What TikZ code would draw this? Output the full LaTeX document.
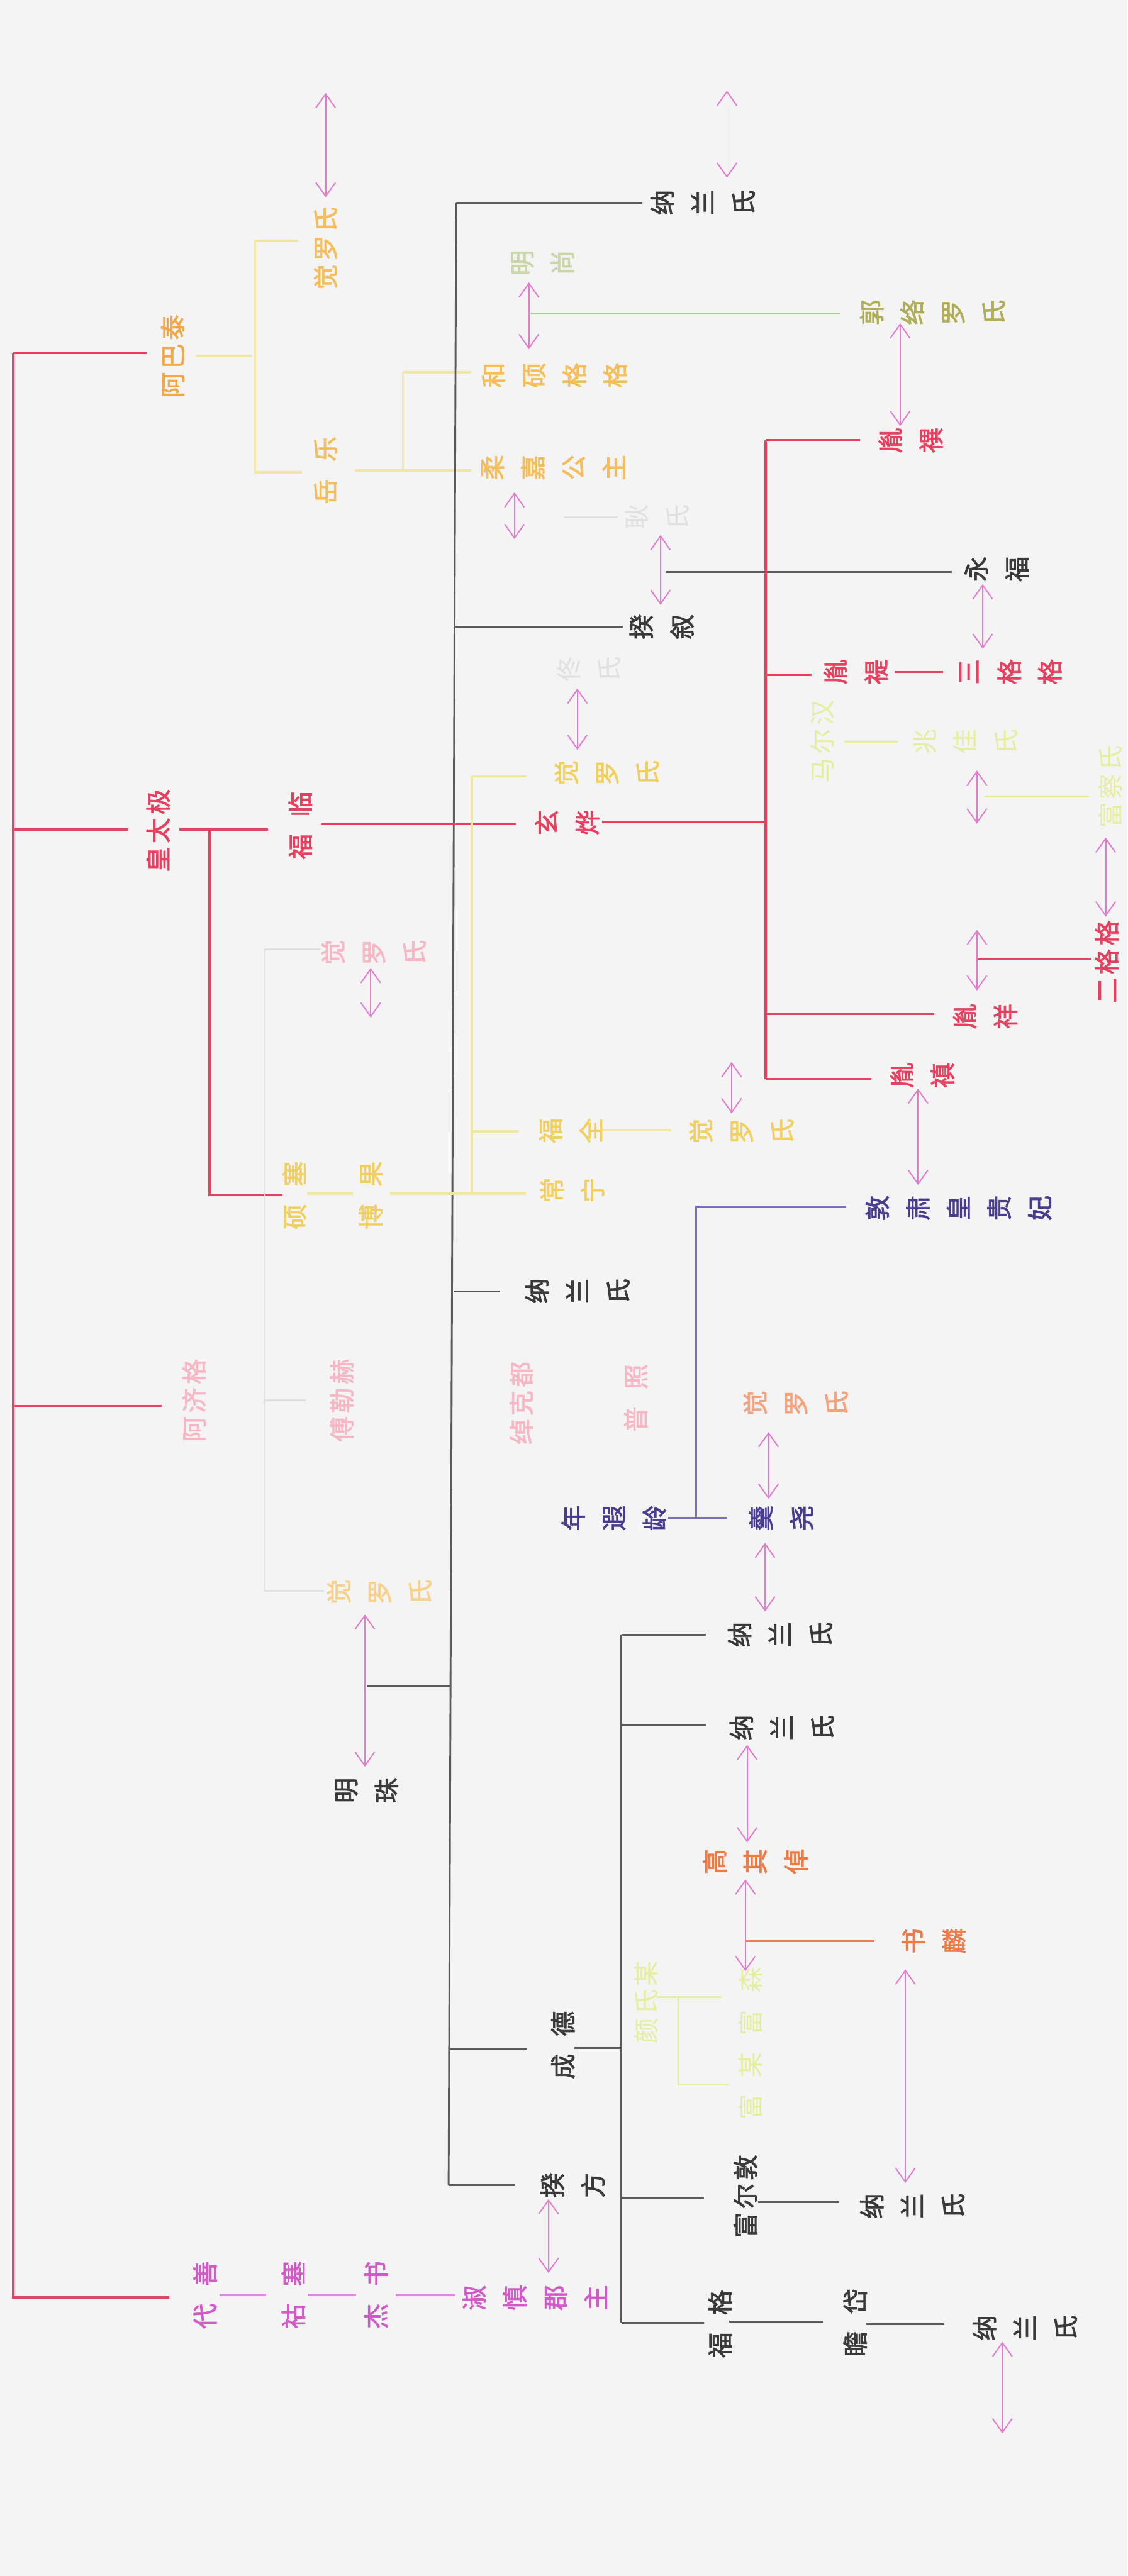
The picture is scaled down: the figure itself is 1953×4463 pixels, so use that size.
\documentclass[tikz,border=0pt]{standalone}
\usepackage{fontspec}
\setmainfont{Noto Sans CJK SC}[AutoFakeBold=2]
\usepackage{xcolor}
\usepackage{tikz}
\usetikzlibrary{arrows.meta}

\definecolor{bgc}{HTML}{F4F4F4}
\definecolor{hred}{HTML}{E8405E}
\definecolor{dtxt}{HTML}{3A3A3A}
\definecolor{dline}{HTML}{5A5A5A}
\definecolor{parr}{HTML}{E27AD0}
\definecolor{hor}{HTML}{F0A848}
\definecolor{lor}{HTML}{F5BE5A}
\definecolor{ylin}{HTML}{EFE7A2}
\definecolor{yel}{HTML}{F2D060}
\definecolor{olv}{HTML}{B0AE58}
\definecolor{grn}{HTML}{A8D888}
\definecolor{fgrn}{HTML}{C8D6A8}
\definecolor{pur}{HTML}{4A3D8F}
\definecolor{purl}{HTML}{7A6CB8}
\definecolor{mag}{HTML}{D25AC8}
\definecolor{ored}{HTML}{F07A45}
\definecolor{fpink}{HTML}{F5B8C4}
\definecolor{fgry}{HTML}{E0E0E0}
\definecolor{fyg}{HTML}{E4EE9E}

% gaps between the glyphs of a standing name
\newcommand{\cg}{\hspace{0.06cm}}
\newcommand{\wg}{\hspace{0.3cm}}

\begin{document}
\begin{tikzpicture}[x=0.01cm, y=-0.01cm,
    lab/.style={rotate=90, inner sep=1pt, font=\fontsize{12.5}{20}\selectfont\bfseries},
    row/.style={lab, align=center},
    col/.style={lab},
    faint/.style={font=\fontsize{12.5}{20}\selectfont},
    rl/.style={draw=hred, line width=1.1pt},
    dl/.style={draw=dline, line width=0.9pt},
    yl/.style={draw=ylin, line width=1.1pt},
    pl/.style={draw=purl, line width=1pt},
    ml/.style={draw=mag!70, line width=0.9pt},
    fl/.style={draw=fgry, line width=0.9pt},
    arr/.style={{Straight Barb[length=2.4mm,width=3.4mm]}-{Straight Barb[length=2.4mm,width=3.4mm]}, draw=parr, line width=0.6pt}
]
\fill[bgc] (0,0) rectangle (1953,4463);
\useasboundingbox (0,0) rectangle (1953,4463);

% --- Abatai and Yuele ---
\node[col, text=lor] (jlA) at (564,430) {觉\cg{}罗\cg{}氏};
\node[col, text=hor] (abt) at (299,617) {阿\cg{}巴\cg{}泰};
\node[col, text=lor] (yuele) at (564,815) {岳\wg{}乐};
\node[row, text=lor] (hsgg) at (960,650) {和\\硕\\格\\格};
\node[row, text=lor] (rjgz) at (958,810) {柔\\嘉\\公\\主};
\node[row, text=fgrn] (mshang) at (940,455) {明\\尚};
\node[row, text=olv] (glls) at (1615,541) {郭\\络\\罗\\氏};
\draw[yl] (517,417) -- (442,417) -- (442,818) -- (523,818);
\draw[yl] (340,617) -- (436,617);
\draw[yl] (614,815) -- (816,815);
\draw[yl] (698,645) -- (698,815);
\draw[yl] (698,645) -- (816,645);
\draw[draw=grn, line width=1pt] (919,543) -- (1456,543);
\draw[arr] (564,161) -- (564,342);
\draw[arr] (916,489) -- (916,605);
\draw[arr] (1559,560) -- (1559,738);
\draw[arr] (891,853) -- (891,934);

% --- Mingzhu's children ---
\node[row, text=dtxt] (nlA) at (1217,351) {纳\\兰\\氏};
\node[row, faint, text=fgry] (gshi) at (1138,896) {耿\\氏};
\node[row, text=dtxt] (kuixu) at (1146,1086) {揆\\叙};
\node[row, text=dtxt] (yongfu) at (1726,986) {永\\福};
\node[row, text=dtxt] (nlB) at (1000,2237) {纳\\兰\\氏};
\node[row, text=dtxt] (mzhu) at (635,3102) {明\\珠};
\node[col, text=dtxt] (chengde) at (975,3543) {成\wg{}德};
\node[row, text=dtxt] (kuifang) at (992,3786) {揆\\方};
\draw[dl] (790,351) -- (777,3786);
\draw[dl] (790,351) -- (1113,351);
\draw[fl] (976,896) -- (1070,896);
\draw[dl] (789,1086) -- (1079,1086);
\draw[dl] (1154,991) -- (1649,991);
\draw[dl] (786,2237) -- (866,2237);
\draw[dl] (636,2922) -- (780,2922);
\draw[dl] (780,3550) -- (913,3550);
\draw[dl] (777,3786) -- (891,3786);
\draw[arr] (1259,157) -- (1259,308);
\draw[arr] (1144,927) -- (1144,1048);
\draw[arr] (1702,1012) -- (1702,1124);
\draw[arr] (632,2797) -- (632,3061);
\draw[arr] (950,3810) -- (950,3938);

% --- Hong Taiji line ---
\node[col, text=hred] (htj) at (274,1439) {皇\cg{}太\cg{}极};
\node[col, text=hred] (fulin) at (520,1430) {福\wg{}临};
\node[row, text=hred] (xuanye) at (982,1425) {玄\\烨};
\node[row, text=hred] (yinsi) at (1577,763) {胤\\禩};
\node[row, text=hred] (yinti) at (1482,1164) {胤\\禔};
\node[row, text=hred] (sgg) at (1750,1164) {三\\格\\格};
\node[row, text=hred] (yinxiang) at (1706,1761) {胤\\祥};
\node[row, text=hred] (yinzhen) at (1597,1863) {胤\\禛};
\node[col, text=hred] (egg) at (1917,1666) {二\cg{}格\cg{}格};
\draw[rl] (23,612) -- (23,3982);
\draw[rl] (23,612) -- (255,612);
\draw[rl] (23,1437) -- (221,1437);
\draw[rl] (311,1437) -- (464,1437);
\draw[rl] (556,1428) -- (893,1428);
\draw[rl] (363,1437) -- (363,2071) -- (489,2071);
\draw[rl] (1043,1424) -- (1325,1424);
\draw[rl] (1326,763) -- (1326,1870);
\draw[rl] (1326,763) -- (1490,763);
\draw[rl] (1326,1169) -- (1406,1169);
\draw[rl] (1326,1757) -- (1618,1757);
\draw[rl] (1326,1870) -- (1509,1870);
\draw[rl] (1549,1164) -- (1633,1164);
\draw[rl] (1692,1661) -- (1889,1661);
\draw[arr] (1692,1611) -- (1692,1716);
\draw[arr] (1915,1451) -- (1915,1588);
\draw[arr] (1590,1886) -- (1590,2053);

% --- faint side of Yinxiang ---
\node[col, faint, text=fyg] (fyA) at (1424,1285) {马\cg{}尔\cg{}汉};
\node[row, faint, text=fyg] (fyB) at (1672,1285) {兆\\佳\\氏};
\node[col, faint, text=fyg] (fyC) at (1923,1363) {富\cg{}察\cg{}氏};
\draw[draw=fyg, line width=0.9pt] (1462,1285) -- (1555,1285);
\draw[draw=fyg, line width=0.9pt] (1705,1380) -- (1886,1380);
\draw[arr] (1692,1335) -- (1692,1427);

% --- Shuose branch ---
\node[col, text=yel] (shuose) at (510,2071) {硕\wg{}塞};
\node[col, text=yel] (bgd) at (642,2071) {博\wg{}果};
\node[row, text=yel] (jlB) at (1051,1339) {觉\\罗\\氏};
\node[row, faint, text=fgry] (tong) at (1020,1160) {佟\\氏};
\node[row, text=yel] (rowX) at (988,1959) {福\\全};
\node[row, text=yel] (rowY) at (991,2062) {常\\宁};
\node[row, text=yel] (jlC) at (1284,1960) {觉\\罗\\氏};
\draw[yl] (532,2068) -- (611,2068);
\draw[yl] (676,2068) -- (911,2068);
\draw[yl] (817,1345) -- (817,2068);
\draw[yl] (817,1345) -- (912,1345);
\draw[yl] (817,1960) -- (899,1960);
\draw[yl] (1043,1958) -- (1163,1958);
\draw[arr] (1000,1193) -- (1000,1299);
\draw[arr] (1267,1840) -- (1267,1929);

% --- Ajige branch ---
\node[row, text=fpink] (jlD) at (647,1650) {觉\\罗\\氏};
\node[col, text=fpink] (ajg) at (336,2426) {阿\cg{}济\cg{}格};
\node[col, text=fpink] (flh) at (592,2426) {傅\cg{}勒\cg{}赫};
\node[col, text=fpink] (ckd) at (903,2431) {绰\cg{}克\cg{}都};
\node[col, text=fpink] (pzhao) at (1101,2422) {普\wg{}照};
\node[row, text=lor!70] (jlE) at (657,2758) {觉\\罗\\氏};
\draw[rl] (23,2436) -- (280,2436);
\draw[fl] (458,1645) -- (458,2756);
\draw[fl] (458,1645) -- (555,1645);
\draw[fl] (458,2426) -- (530,2426);
\draw[fl] (458,2756) -- (561,2756);
\draw[arr] (642,1677) -- (642,1763);

% --- Nian family ---
\node[row, text=pur] (dsgf) at (1660,2093) {敦\\肃\\皇\\贵\\妃};
\node[row, text=pur] (nxl) at (1063,2630) {年\\遐\\龄};
\node[row, text=pur] (gyao) at (1353,2630) {羹\\尧};
\node[row, text=ored!70] (jlF) at (1378,2431) {觉\\罗\\氏};
\draw[pl] (1465,2090) -- (1206,2090) -- (1206,2630);
\draw[pl] (1157,2630) -- (1259,2630);
\draw[arr] (1331,2481) -- (1331,2597);
\draw[arr] (1325,2673) -- (1325,2792);

% --- Chengde's children ---
\node[row, text=dtxt] (nlC) at (1351,2832) {纳\\兰\\氏};
\node[row, text=dtxt] (nlD) at (1354,2993) {纳\\兰\\氏};
\node[row, text=ored] (gqz) at (1308,3225) {高\\其\\倬};
\node[row, text=ored] (shulin) at (1617,3363) {书\\麟};
\node[col, text=dtxt] (fed) at (1291,3805) {富\cg{}尔\cg{}敦};
\node[row, text=dtxt] (nlE) at (1580,3822) {纳\\兰\\氏};
\node[col, text=dtxt] (fuge) at (1247,4026) {福\wg{}格};
\node[col, text=dtxt] (zhandai) at (1481,4024) {瞻\wg{}岱};
\node[row, text=dtxt] (nlF) at (1775,4033) {纳\\兰\\氏};
\node[col, faint, text=fyg] (yanshi) at (1119,3469) {颜\cg{}氏\cg{}某};
\node[col, faint, text=fyg] (fsA) at (1300,3467) {富\wg{}森};
\node[col, faint, text=fyg] (fsB) at (1300,3614) {富\wg{}某};
\draw[dl] (995,3548) -- (1076,3548);
\draw[dl] (1076,2832) -- (1076,4024);
\draw[dl] (1076,2832) -- (1222,2832);
\draw[dl] (1076,2988) -- (1222,2988);
\draw[dl] (1076,3808) -- (1219,3808);
\draw[dl] (1076,4024) -- (1219,4024);
\draw[dl] (1313,3815) -- (1453,3815);
\draw[dl] (1263,4022) -- (1425,4022);
\draw[dl] (1500,4027) -- (1636,4027);
\draw[draw=ored, line width=0.9pt] (1291,3363) -- (1515,3363);
\draw[draw=fyg, line width=0.9pt] (1138,3460) -- (1250,3460);
\draw[draw=fyg, line width=0.9pt] (1175,3460) -- (1175,3612) -- (1263,3612);
\draw[arr] (1294,3023) -- (1294,3192);
\draw[arr] (1291,3256) -- (1291,3415);
\draw[arr] (1568,3412) -- (1568,3782);
\draw[arr] (1736,4057) -- (1736,4216);

% --- Daishan line ---
\node[col, text=mag] (daishan) at (355,3976) {代\wg{}善};
\node[col, text=mag] (husai) at (508,3976) {祜\wg{}塞};
\node[col, text=mag] (jieshu) at (651,3976) {杰\wg{}书};
\node[row, text=mag] (sszz) at (926,3981) {淑\\慎\\郡\\主};
\draw[rl] (23,3980) -- (293,3980);
\draw[ml] (380,3976) -- (461,3976);
\draw[ml] (533,3976) -- (617,3976);
\draw[ml] (685,3976) -- (788,3976);
\end{tikzpicture}
\end{document}
